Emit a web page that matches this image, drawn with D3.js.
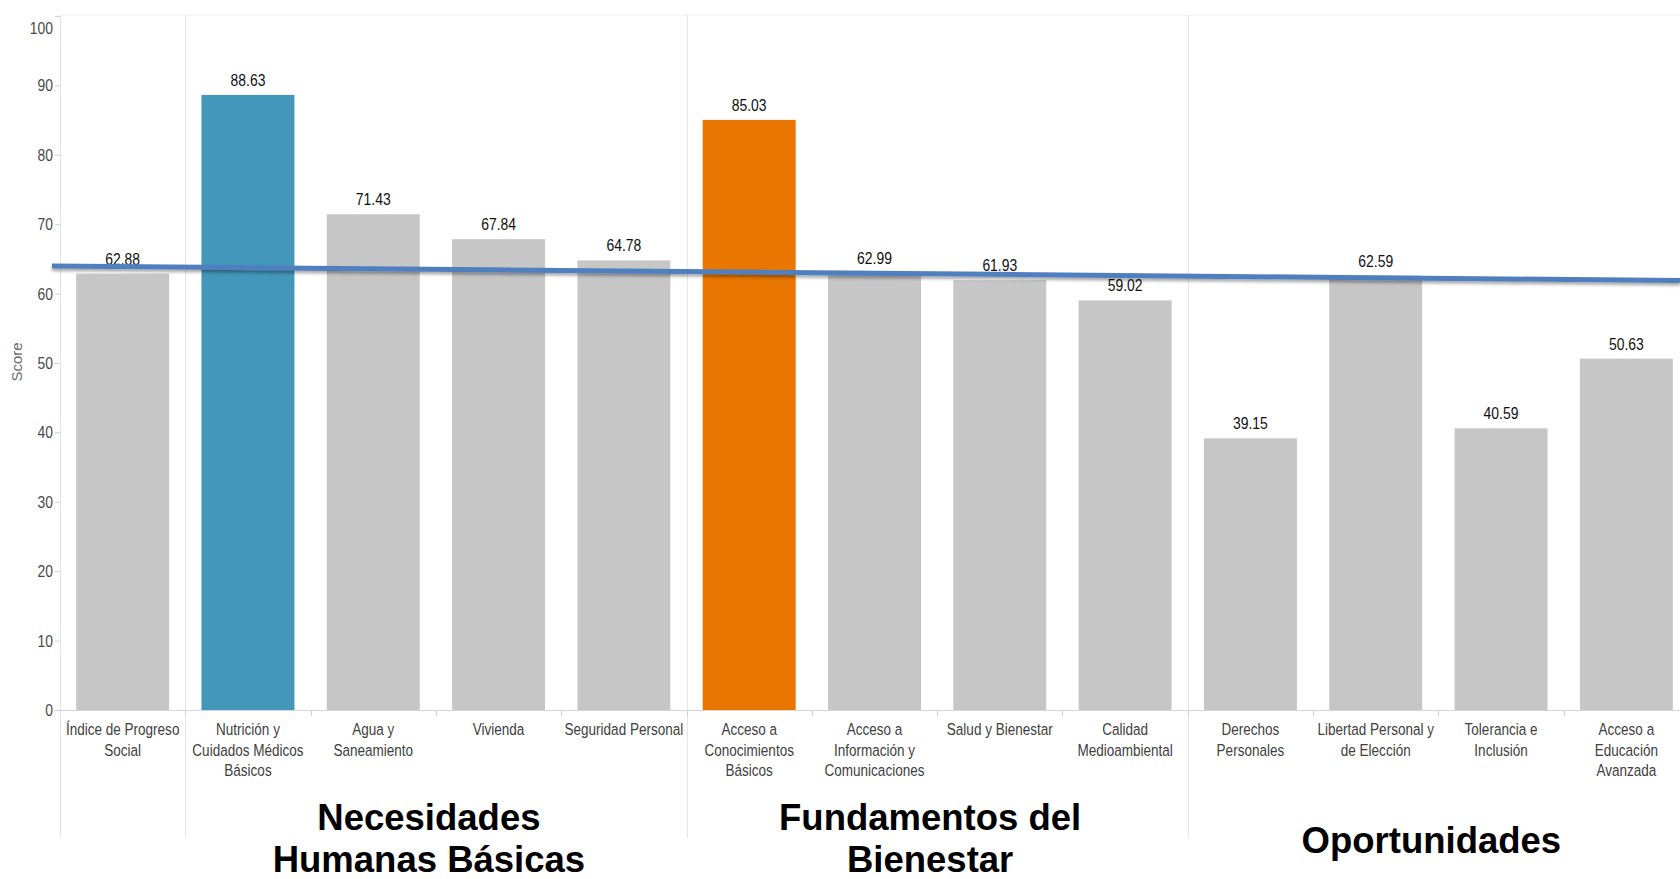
<!DOCTYPE html>
<html>
<head>
<meta charset="utf-8">
<script src="https://cdn.jsdelivr.net/npm/d3@7"></script>
<style>
  html, body { margin: 0; padding: 0; background: #ffffff; }
  svg { display: block; }
</style>
</head>
<body>
<svg id="chart" width="1680" height="879"></svg>
<script>
// ---------------- DATA ----------------
const categories = [
  "Índice de Progreso\nSocial",
  "Nutrición y\nCuidados Médicos\nBásicos",
  "Agua y\nSaneamiento",
  "Vivienda",
  "Seguridad Personal",
  "Acceso a\nConocimientos\nBásicos",
  "Acceso a\nInformación y\nComunicaciones",
  "Salud y Bienestar",
  "Calidad\nMedioambiental",
  "Derechos\nPersonales",
  "Libertad Personal y\nde Elección",
  "Tolerancia e\nInclusión",
  "Acceso a\nEducación\nAvanzada"
];
const scores = [62.88, 88.63, 71.43, 67.84, 64.78, 85.03, 62.99, 61.93, 59.02, 39.15, 62.59, 40.59, 50.63];
const highlight = ["none", "blue", "none", "none", "none", "orange", "none", "none", "none", "none", "none", "none", "none"];
const yTicks = [0, 10, 20, 30, 40, 50, 60, 70, 80, 90, 100];
const yTitle = "Score";
const groupNames = ["Necesidades\nHumanas Básicas", "Fundamentos del\nBienestar", "Oportunidades"];
const groupFirst = [1, 5, 9];
const groupLast = [4, 8, 12];
// reference line: value at first and last category
const refLineValues = [63.9, 61.96];

// ---------------- LAYOUT ----------------
const W = 1680, H = 879;
const plotLeft = 60, plotRight = 1689, yZero = 710, yHundred = 16;
const frameTop = 15, frameBottom = 838;
const narrow = 0.82;
const FONT = "'Liberation Sans', Arial, sans-serif";
const colors = { none: "#c6c6c6", blue: "#4397ba", orange: "#e97600" };

const svg = d3.select("#chart");

const x = d3.scaleBand()
  .domain(categories)
  .range([plotLeft, plotRight])
  .paddingInner(0.258)
  .paddingOuter(0.129);
const step = x.step();
const halfGap = step * 0.258 / 2;

const y = d3.scaleLinear().domain([0, 100]).range([yZero, yHundred]);

const defs = svg.append("defs");
const f = defs.append("filter").attr("id", "shadow")
  .attr("x", "-5%").attr("y", "-200%").attr("width", "110%").attr("height", "500%");
f.append("feDropShadow").attr("dx", 0).attr("dy", 2.5).attr("stdDeviation", 1.6)
  .attr("flood-color", "#000").attr("flood-opacity", 0.35);

// frame lines
const g = svg.append("g");
g.append("line").attr("x1", plotLeft).attr("x2", W).attr("y1", frameTop).attr("y2", frameTop)
  .attr("stroke", "#eeeeee").attr("stroke-width", 1);
g.append("line").attr("x1", plotLeft + 0.5).attr("x2", plotLeft + 0.5).attr("y1", frameTop).attr("y2", frameBottom)
  .attr("stroke", "#e2e2e2").attr("stroke-width", 1);
groupFirst.forEach(i => {
  const sx = Math.round(x(categories[i]) - halfGap) + 0.5;
  g.append("line").attr("x1", sx).attr("x2", sx).attr("y1", frameTop).attr("y2", frameBottom)
    .attr("stroke", "#e6e6e6").attr("stroke-width", 1);
});

// x baseline + band ticks
g.append("line").attr("x1", plotLeft).attr("x2", W).attr("y1", yZero + 0.5).attr("y2", yZero + 0.5)
  .attr("stroke", "#d6d6d6").attr("stroke-width", 1);
categories.forEach((c, i) => {
  if (i === 0) return;
  const tx = Math.round(x(c) - halfGap) + 0.5;
  g.append("line").attr("x1", tx).attr("x2", tx).attr("y1", yZero).attr("y2", yZero + 6)
    .attr("stroke", "#d0d0d0").attr("stroke-width", 1);
});

// y axis ticks & labels
const yAxisG = svg.append("g");
yTicks.forEach(t => {
  const ty = y(t);
  yAxisG.append("line").attr("x1", plotLeft - 5).attr("x2", plotLeft).attr("y1", ty + 0.5).attr("y2", ty + 0.5)
    .attr("stroke", "#cfcfcf");
  const cy = Math.max(ty, 28);
  yAxisG.append("text")
    .attr("transform", `translate(${plotLeft - 7},${cy + 6}) scale(${narrow},1)`)
    .attr("text-anchor", "end")
    .attr("font-family", FONT)
    .attr("font-size", 17)
    .attr("fill", "#4a4a4a")
    .text(t);
});

// y title
svg.append("text")
  .attr("transform", `translate(22,362) rotate(-90)`)
  .attr("text-anchor", "middle")
  .attr("font-family", FONT)
  .attr("font-size", 15)
  .attr("fill", "#6a6a6a")
  .text(yTitle);

// bars
svg.append("g").selectAll("rect")
  .data(categories)
  .join("rect")
  .attr("x", d => x(d))
  .attr("width", x.bandwidth())
  .attr("y", (d, i) => y(scores[i]))
  .attr("height", (d, i) => y(0) - y(scores[i]))
  .attr("fill", (d, i) => colors[highlight[i]]);

// value labels
svg.append("g").selectAll("text")
  .data(categories)
  .join("text")
  .attr("transform", (d, i) => `translate(${x(d) + x.bandwidth() / 2},${y(scores[i]) - 9}) scale(${narrow},1)`)
  .attr("text-anchor", "middle")
  .attr("font-family", FONT)
  .attr("font-size", 17)
  .attr("fill", "#111")
  .text((d, i) => scores[i].toFixed(2));

// category labels
const catG = svg.append("g");
categories.forEach(c => {
  const cx = x(c) + x.bandwidth() / 2;
  c.split("\n").forEach((line, k) => {
    catG.append("text")
      .attr("transform", `translate(${cx},${735 + k * 20.5}) scale(${narrow},1)`)
      .attr("text-anchor", "middle")
      .attr("font-family", FONT)
      .attr("font-size", 16.5)
      .attr("fill", "#404040")
      .text(line);
  });
});

// group labels
const grpG = svg.append("g");
groupNames.forEach((name, gi) => {
  const left = x(categories[groupFirst[gi]]) - halfGap;
  const right = x(categories[groupLast[gi]]) + x.bandwidth() + halfGap;
  const cx = (left + right) / 2 - 7;
  const lines = name.split("\n");
  const base = lines.length === 1 ? 853 : 830;
  lines.forEach((line, k) => {
    grpG.append("text")
      .attr("x", cx)
      .attr("y", base + k * 42)
      .attr("text-anchor", "middle")
      .attr("font-family", FONT)
      .attr("font-weight", "bold")
      .attr("font-size", 36.5)
      .attr("fill", "#000")
      .text(line);
  });
});

// reference line (extended across plot)
const firstC = x(categories[0]) + x.bandwidth() / 2;
const lastC = x(categories[categories.length - 1]) + x.bandwidth() / 2;
const lineScale = d3.scaleLinear().domain([firstC, lastC]).range(refLineValues);
const xs = [52, W];
svg.append("path")
  .datum(xs)
  .attr("d", d3.line().x(d => d).y(d => y(lineScale(d))))
  .attr("stroke", "#4f7fbf")
  .attr("stroke-width", 5)
  .attr("fill", "none")
  .attr("filter", "url(#shadow)");
</script>
</body>
</html>
